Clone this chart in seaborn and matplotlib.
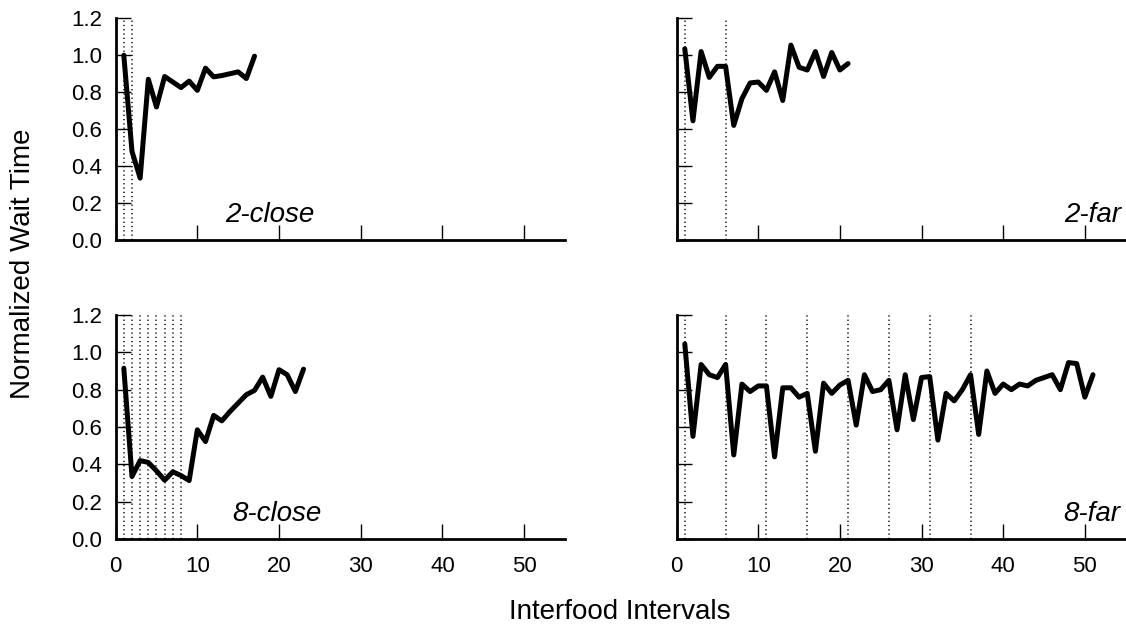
import matplotlib
matplotlib.use("Agg")
import matplotlib.pyplot as plt
import pandas as pd
import seaborn as sns

# normalized wait time per interfood interval
close2 = [1.00, 0.48, 0.335, 0.87, 0.72, 0.885, 0.855, 0.825, 0.86, 0.81,
          0.93, 0.883, 0.89, 0.90, 0.91, 0.874, 0.995]
far2 = [1.035, 0.645, 1.02, 0.88, 0.94, 0.94, 0.62, 0.765, 0.85, 0.855,
        0.81, 0.91, 0.755, 1.055, 0.935, 0.92, 1.02, 0.885, 1.015, 0.92, 0.955]
close8 = [0.915, 0.335, 0.42, 0.41, 0.365, 0.315, 0.36, 0.34, 0.313, 0.585,
          0.522, 0.662, 0.633, 0.683, 0.728, 0.773, 0.796, 0.867, 0.764, 0.907,
          0.88, 0.79, 0.91]
far8 = [1.045, 0.55, 0.935, 0.88, 0.865, 0.935, 0.45, 0.83, 0.79, 0.82,
        0.82, 0.44, 0.81, 0.81, 0.76, 0.78, 0.47, 0.835, 0.78, 0.825,
        0.85, 0.61, 0.88, 0.79, 0.80, 0.85, 0.585, 0.88, 0.64, 0.865,
        0.87, 0.53, 0.78, 0.74, 0.80, 0.88, 0.56, 0.90, 0.78, 0.83,
        0.80, 0.83, 0.82, 0.85, 0.865, 0.88, 0.80, 0.945, 0.94, 0.76, 0.88]

# intervals marked with dotted lines (food-site change points)
marks_close2 = [1, 2]
marks_far2 = [1, 6]
marks_close8 = [1, 2, 3, 4, 5, 6, 7, 8]
marks_far8 = [1, 6, 11, 16, 21, 26, 31, 36]

panel_names = ['2-close', '2-far', '8-close', '8-far']
x_ticks = [0, 10, 20, 30, 40, 50]
y_ticks = [0.0, 0.2, 0.4, 0.6, 0.8, 1.0, 1.2]

sns.set_style("ticks")
plt.rcParams['font.family'] = ['Liberation Sans', 'DejaVu Sans']
plt.rcParams.update({'text.color': 'black', 'axes.edgecolor': 'black',
                     'axes.labelcolor': 'black', 'xtick.color': 'black',
                     'ytick.color': 'black'})

fig = plt.figure(figsize=(11.26, 6.26), dpi=100)

rects = [[0.1027, 0.6166, 0.3990, 0.3542],
         [0.6009, 0.6166, 0.3988, 0.3542],
         [0.1027, 0.1390, 0.3990, 0.3578],
         [0.6009, 0.1390, 0.3988, 0.3578]]
series = [close2, far2, close8, far8]
marks = [marks_close2, marks_far2, marks_close8, marks_far8]
# label anchor (x in data units, ha)
label_pos = [(18.9, 'center'), (54.5, 'right'), (19.7, 'center'), (54.3, 'right')]

for i in range(4):
    ax = fig.add_axes(rects[i])
    df = pd.DataFrame({'interval': range(1, len(series[i]) + 1), 'wait': series[i]})
    for m in marks[i]:
        ax.axvline(m, color='black', lw=1.1, ls=(0, (0.8, 2.0)), zorder=1)
    sns.lineplot(data=df, x='interval', y='wait', ax=ax, color='black',
                 lw=3.6, zorder=3)
    ax.set_xlim(0, 55)
    ax.set_ylim(0, 1.2)
    ax.set_xticks(x_ticks)
    ax.set_yticks(y_ticks)
    ax.set_xlabel('')
    ax.set_ylabel('')
    sns.despine(ax=ax)
    for s in ['left', 'bottom']:
        ax.spines[s].set_linewidth(2)
    ax.tick_params(direction='in', length=11, width=1, labelsize=16, pad=10)
    ax.tick_params(axis='x', pad=12)
    if i < 2:
        ax.set_xticklabels([])
    else:
        ax.set_xticklabels([str(t) for t in x_ticks])
    if i % 2 == 1:
        ax.set_yticklabels([])
    else:
        ax.set_yticklabels(['%.1f' % t for t in y_ticks])
    lx, ha = label_pos[i]
    ax.text(lx, 0.095, panel_names[i], ha=ha, va='baseline', fontsize=20,
            style='italic')

fig.text(0.0205, 0.579, 'Normalized Wait Time', rotation=90, ha='center',
         va='center', fontsize=20)
fig.text(0.550, 0.022, 'Interfood Intervals', ha='center', va='center',
         fontsize=20)

plt.savefig('out.png', dpi=100)
